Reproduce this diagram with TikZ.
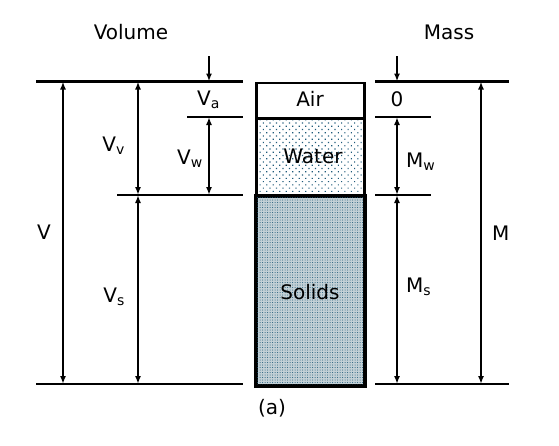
\documentclass[tikz,border=0pt]{standalone}
\usepackage{fontspec}
\setmainfont{DejaVu Sans}
\usetikzlibrary{arrows.meta,patterns.meta}
\definecolor{dotc}{HTML}{1E5A7A}
\definecolor{solidbg}{HTML}{C3D0D6}
\begin{document}
\begin{tikzpicture}[x=1pt,y=-1pt,
  lev/.style={line width=2.2pt},
  dim/.style={line width=2.2pt,{Latex[length=8pt,width=6pt]}-{Latex[length=8pt,width=6pt]}},
  ptr/.style={line width=2.2pt,-{Latex[length=8pt,width=6pt]}},
  phase/.style={draw,line width=2.6pt},
  lbl/.style={font=\fontsize{20}{24}\selectfont,inner sep=0pt},
  lblw/.style={lbl,anchor=base west},
  lble/.style={lbl,anchor=base east}]
\useasboundingbox (0,0) rectangle (559,445);
% level coordinates (left)
\coordinate (tl1) at (36,81.5);  \coordinate (tl2) at (243,81.5);
\coordinate (al1) at (187,117);  \coordinate (al2) at (243,117);
\coordinate (sl1) at (117,195);  \coordinate (sl2) at (243,195);
\coordinate (bl1) at (36,384);   \coordinate (bl2) at (243,384);
% level coordinates (right)
\coordinate (tr1) at (375,81.5); \coordinate (tr2) at (509,81.5);
\coordinate (zr1) at (375,117);  \coordinate (zr2) at (431,117);
\coordinate (mr1) at (375,195);  \coordinate (mr2) at (431,195);
\coordinate (br1) at (375,384);  \coordinate (br2) at (509,384);
\draw[lev] (tl1) -- (tl2);
\draw[lev] (al1) -- (al2);
\draw[lev] (sl1) -- (sl2);
\draw[lev] (bl1) -- (bl2);
\draw[lev] (tr1) -- (tr2);
\draw[lev] (zr1) -- (zr2);
\draw[lev] (mr1) -- (mr2);
\draw[lev] (br1) -- (br2);
% phase column
\node[phase,minimum width=108pt,minimum height=35.5pt,anchor=north west] (air) at (255,81.5) {};
\node[phase,minimum width=108pt,minimum height=78pt,anchor=north west,
  pattern={Dots[distance=4.6pt,angle=45,radius=0.75pt]},pattern color=dotc] (water) at (255,117) {};
\node[phase,minimum width=108pt,minimum height=189pt,anchor=north west,
  fill=solidbg,
  postaction={pattern={Dots[distance=2.5pt,radius=0.5pt]},pattern color=dotc}] (solids) at (255,195) {};
\draw[line width=2.6pt] (solids.north west) rectangle (solids.south east);
\node[lbl] (tair) at (310,99) {Air};
\node[lbl,anchor=base] (twater) at (313,163) {Water};
\node[lbl] (tsolids) at (310,292) {Solids};
% arrow coordinates
\coordinate (vt) at (63,81.5);  \coordinate (vb) at (63,384);
\coordinate (vvt) at (138,81.5); \coordinate (vvb) at (138,195);
\coordinate (vsb) at (138,384);
\coordinate (vwt) at (209,117); \coordinate (vwb) at (209,195);
\coordinate (vat) at (209,56);  \coordinate (vab) at (209,81.5);
\coordinate (zt) at (397,56);   \coordinate (zb) at (397,81.5);
\coordinate (mwt) at (397,117); \coordinate (mwb) at (397,195);
\coordinate (msb) at (397,384);
\coordinate (mt) at (481,81.5); \coordinate (mb) at (481,384);
\draw[dim] (vt) -- (vb);
\draw[dim] (vvt) -- (vvb);
\draw[dim] (vvb) -- (vsb);
\draw[dim] (vwt) -- (vwb);
\draw[ptr] (vat) -- (vab);
\draw[ptr] (zt) -- (zb);
\draw[dim] (mwt) -- (mwb);
\draw[dim] (mwb) -- (msb);
\draw[dim] (mt) -- (mb);
% labels
\node[lbl] (tvol) at (131,32) {Volume};
\node[lbl] (tmass) at (449,32) {Mass};
\node[lblw] (tv) at (37,239) {V};
\node[lble] (tvv) at (125,151) {V\textsubscript{v}};
\node[lble] (tvs) at (125,302) {V\textsubscript{s}};
\node[lble] (tvw) at (203,164) {V\textsubscript{w}};
\node[lblw] (tva) at (197,105) {V\textsubscript{a}};
\node[lbl] (tzero) at (397,99) {0};
\node[lblw] (tmw) at (406,167) {M\textsubscript{w}};
\node[lblw] (tms) at (406,292) {M\textsubscript{s}};
\node[lblw] (tm) at (492,240) {M};
\node[lbl] (tcap) at (272,408) {(a)};
\end{tikzpicture}
\end{document}
